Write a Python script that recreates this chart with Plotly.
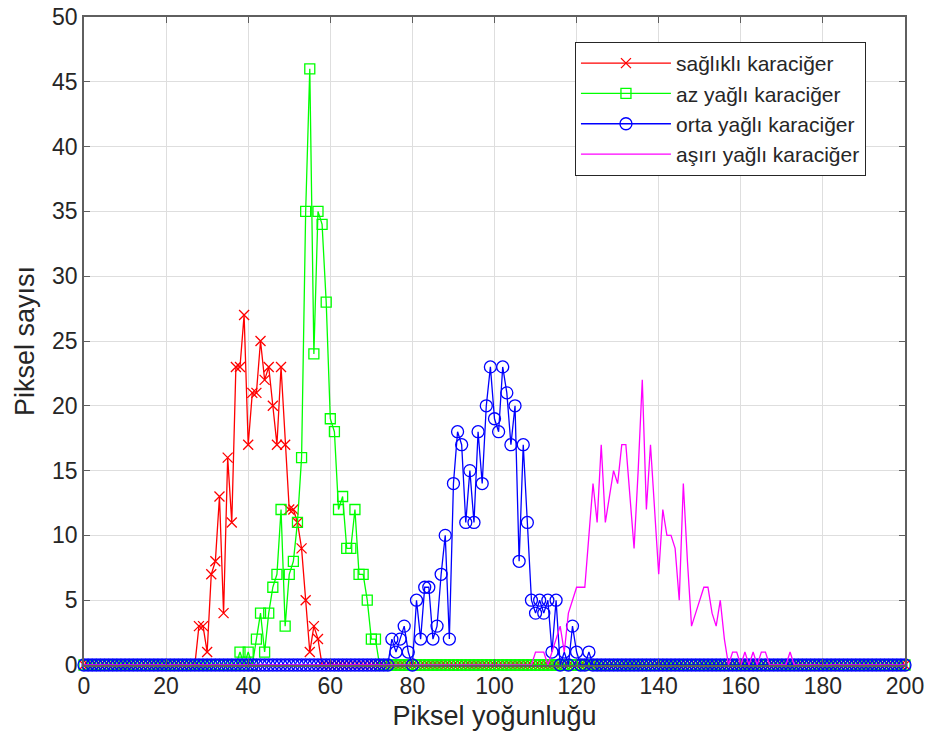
import plotly.graph_objects as go

# x axis: pixel intensity 0..200
intensity = list(range(0, 201))

# non-zero regions of each histogram (start index + values)
healthy_start = 27
healthy_vals = [0, 3, 3, 1, 7, 8, 13, 4, 16, 11, 23, 23, 27, 17, 21, 21, 25, 22, 23, 20,
                17, 23, 17, 12, 12, 11, 9, 5, 1, 3, 2, 0]

mild_start = 37
mild_vals = [0, 1, 0, 1, 0, 2, 4, 1, 4, 6, 7, 12, 3, 7, 8, 11, 16, 35, 46, 24,
             35, 34, 28, 19, 18, 12, 13, 9, 9, 12, 7, 7, 5, 2, 2, 0]

moderate_start = 74
moderate_vals = [0, 2, 1, 2, 3, 1, 0, 5, 2, 6, 6, 2, 3, 7, 10, 2, 14, 18, 17, 11,
                 15, 11, 18, 14, 20, 23, 19, 18, 23, 21, 17, 20, 8, 17, 11, 5, 4, 5, 4, 5,
                 1, 5, 0, 1, 0, 3, 1, 0, 0, 1, 0]

severe_start = 109
severe_vals = [0, 1, 1, 1, 0, 1, 2, 3, 1, 4, 5, 6, 6, 6, 10, 14, 11, 17, 11, 13,
               15, 14, 17, 17, 13, 9, 15, 22, 12, 17, 12, 7, 12, 10, 10, 9, 5, 14, 8, 3,
               4, 5, 6, 6, 4, 3, 5, 2, 0, 1, 1, 0, 1, 0, 1, 0, 1, 1, 0, 0,
               0, 0, 0, 1, 0]

series_names = ["sağlıklı karaciğer", "az yağlı karaciğer",
                "orta yağlı karaciğer", "aşırı yağlı karaciğer"]
x_ticks = [0, 20, 40, 60, 80, 100, 120, 140, 160, 180, 200]
y_ticks = [0, 5, 10, 15, 20, 25, 30, 35, 40, 45, 50]


def full(start, vals):
    y = [0] * len(intensity)
    for i, v in enumerate(vals):
        y[start + i] = v
    return y


FONT = "Liberation Sans, Arial, sans-serif"
TXT = "#262626"

fig = go.Figure()
fig.add_trace(go.Scatter(
    x=intensity, y=full(healthy_start, healthy_vals), name=series_names[0],
    mode="lines+markers", cliponaxis=False, line=dict(color="#ff0000", width=1.3),
    marker=dict(symbol="x-thin-open", size=10, line=dict(color="#ff0000", width=1.3))))
fig.add_trace(go.Scatter(
    x=intensity, y=full(mild_start, mild_vals), name=series_names[1],
    mode="lines+markers", cliponaxis=False, line=dict(color="#00ff00", width=1.3),
    marker=dict(symbol="square-open", size=10, color="#00ff00", line=dict(color="#00ff00", width=1.3))))
fig.add_trace(go.Scatter(
    x=intensity, y=full(moderate_start, moderate_vals), name=series_names[2],
    mode="lines+markers", cliponaxis=False, line=dict(color="#0000ff", width=1.3),
    marker=dict(symbol="circle-open", size=12, color="#0000ff", line=dict(color="#0000ff", width=1.3))))
fig.add_trace(go.Scatter(
    x=intensity, y=full(severe_start, severe_vals), name=series_names[3],
    mode="lines", cliponaxis=False, line=dict(color="#ff00ff", width=1.3)))

axis_common = dict(
    showline=True, linecolor="#5f5f5f", linewidth=1.5, mirror="ticks",
    ticks="inside", ticklen=6, tickcolor="#5f5f5f",
    showgrid=True, gridcolor="#dedede", gridwidth=1, zeroline=False,
    automargin=False,
    tickfont=dict(family=FONT, size=23, color=TXT),
)

fig.update_layout(
    width=929, height=742,
    margin=dict(l=84, r=24, t=17, b=77),
    paper_bgcolor="white", plot_bgcolor="white",
    font=dict(family=FONT, color=TXT),
    xaxis=dict(range=[0, 200], tickvals=x_ticks, **axis_common,
               title=dict(text="Piksel yoğunluğu", font=dict(family=FONT, size=27, color=TXT), standoff=8)),
    yaxis=dict(range=[0, 50], tickvals=y_ticks, **axis_common,
               title=dict(text="Piksel sayısı", font=dict(family=FONT, size=27, color=TXT), standoff=10)),
    legend=dict(x=0.598, y=0.9614, xanchor="left", yanchor="top",
                bgcolor="white", bordercolor="#262626", borderwidth=1,
                font=dict(family=FONT, size=21, color=TXT), itemwidth=90,
                tracegroupgap=0),
    showlegend=True,
)

fig.write_html("out.html", config={"displayModeBar": False},
               post_script="document.body.style.margin='0';document.body.style.overflow='hidden';")
